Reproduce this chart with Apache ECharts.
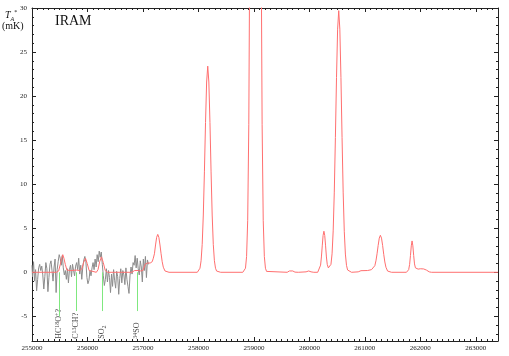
<!DOCTYPE html>
<html>
<head>
<meta charset="utf-8">
<script src="https://cdn.jsdelivr.net/npm/echarts@6/dist/echarts.min.js"></script>
<style>
html, body { margin: 0; padding: 0; background: #fff; }
#chart { width: 509px; height: 356px; }
</style>
</head>
<body>
<div id="chart"></div>
<script>
// observed spectrum (grey), evenly spaced channels
var OBS_START = 255000;
var OBS_STEP = 18.5;
var obsValues = [
    0.8, -0.5, 1.2, -1.0, 0.3, -2.1, -0.8, 0.5,
    0.9, 0.2, 0.7, -0.3, -1.9, -0.5, 1.1, 0.4, -2.2, -0.6,
    0.9, 1.3, 0.2, -1.0, 0.6, 1.5, -2.3, 0.3,
    1.2, 2.0, 1.6, 0.8, 1.9, 0.5, -0.3, 0.2,
    -0.8, 0.4, -1.2, 0.3, 0.8, -0.5, 0.9, 0.2, -0.4,
    0.7, 1.1, 0.3, 1.6, -0.2, 0.8, -0.8, 0.6, 1.4, 1.8,
    1.2, -0.6, -1.3, -0.9, 0.2, -0.4, 0.5,
    1.1, 0.3, 1.5, 0.6, 2.0, 1.2, 2.4, 1.7, 2.3,
    0.9, -0.4, -1.5, -0.8, 0.4, -1.1, 0.2, -0.6, -2.3,
    -0.2, -1.6, 0.3, -0.9, -1.8, 0.1, -0.5, -2.5, -0.7, 0.4, -1.2, 0.2, -0.3, -1.4, 0.5,
    -0.8, -1.6, -2.4, -0.4, 0.6, -0.2, 1.1, 0.8, 1.9, 0.5,
    1.6, 0.4, -0.3, 1.3, 0.6, -1.1, 1.5, 0.2, 1.8, -0.6, 1.4, 0.9
];

// model spectrum (red)
var modelFreq = [
    255000, 255440, 255480, 255510, 255535, 255555, 255575, 255600, 255630, 255660,
    255700, 255800, 255860, 255900, 255930, 255964, 255995, 256030, 256060, 256160,
    256190, 256220, 256252, 256285, 256320, 256360, 256800, 256850, 256883, 256920,
    256960, 257000, 257040, 257080, 257130, 257167, 257187, 257207, 257227, 257247,
    257267, 257287, 257307, 257327, 257347, 257367, 257397, 257427, 257470,
    257980, 258008, 258028, 258048, 258068, 258088, 258108, 258128, 258148, 258168,
    258188, 258208, 258228, 258248, 258268, 258288, 258308, 258328, 258358, 258400,
    258800, 258828, 258848, 258868, 258888, 258908, 258928, 258948, 258968, 258988, 259008,
    259028, 259048, 259068, 259088, 259108, 259128, 259148, 259168, 259188, 259208,
    259228, 259258,
    259600, 259640, 259671, 259700, 259740, 259800, 259940, 259988, 260030, 260080,
    260150, 260180, 260202, 260217, 260232, 260247, 260262, 260277, 260292, 260307,
    260322, 260342, 260369, 260389, 260409, 260429, 260449, 260469, 260489, 260509,
    260529, 260549, 260569, 260589, 260609, 260629, 260649, 260669, 260689, 260719, 260760,
    260880, 260930, 261050, 261120, 261150, 261180, 261200, 261220, 261240, 261260,
    261280, 261300, 261320, 261340, 261360, 261380, 261410, 261440, 261480,
    261750, 261771, 261790, 261807, 261822, 261837, 261851, 261865, 261880, 261895,
    261912, 261935, 261960, 262000, 262060, 262110, 262160, 262200, 263400
];
var modelValues = [
    0, 0, 0.15, 0.9, 1.6, 2.0, 1.6, 0.9, 0.25, 0.05,
    0.2, 0.25, 0.2, 0.4, 1.1, 1.6, 1.0, 0.2, 0.02, 0,
    0.3, 1.2, 1.75, 1.1, 0.2, 0, 0, 0.2, 0.3, 0.2,
    0.15, 0.2, 0.9, 1.05, 1.05, 1.2, 1.6, 2.1, 3.1, 3.97,
    4.3, 3.97, 3.1, 2.1, 1.2, 0.58, 0.15, 0.03, 0,
    0, 0.14, 0.46, 1.31, 3.17, 6.5, 11.4, 17.0, 21.6, 23.4,
    21.6, 17.0, 11.4, 6.5, 3.17, 1.31, 0.46, 0.14, 0.02, 0,
    0, 0.1, 0.46, 1.8, 5.9, 16.8, 40.6, 83, 146, 218, 277,
    300, 277, 218, 146, 83, 40.6, 16.8, 5.9, 1.8, 0.46,
    0.1, 0,
    0, 0.15, 0.23, 0.15, 0.02, 0, 0.05, 0.15, 0.05, 0,
    0, 0.08, 0.81, 1.74, 3.0, 4.18, 4.66, 4.18, 3.0, 1.74,
    0.9, 0.5, 0.6, 0.9, 2.1, 4.7, 9.1, 15.3, 22.1, 27.6,
    29.7, 27.6, 22.1, 15.3, 9.1, 4.66, 2.07, 0.79, 0.26, 0.04, 0,
    0.05, 0.18, 0.2, 0.3, 0.35, 0.75, 1.3, 2.1, 3.05, 3.88,
    4.2, 3.88, 3.05, 2.04, 1.17, 0.57, 0.14, 0.03, 0,
    0, 0.06, 0.3, 0.9, 1.9, 3.0, 3.56, 3.0, 1.9, 0.95,
    0.5, 0.35, 0.36, 0.4, 0.38, 0.25, 0.05, 0, 0
];

// line identifications (green)
var lineFreq = [255490, 255797, 256265, 256896];
var lineBottom = [-5.0, -4.4, -4.4, -4.4];
var lineNames = ['HC{sup|18}O{sup|+}?', 'C{sup|13}CH?', 'SO{sub|2}', '{sup|34}SO'];

var X_MIN = 255000, X_MAX = 263400;
var Y_MIN = -7.8, Y_MAX = 30;
var AXIS_COLOR = '#222';
var SERIF = '"Liberation Serif", "DejaVu Serif", serif';

var chart = echarts.init(document.getElementById('chart'), null, { renderer: 'canvas' });

var obsData = obsValues.map(function(v, i) {
    return [OBS_START + i * OBS_STEP, v];
});
var modelData = modelFreq.map(function(f, i) {
    return [f, modelValues[i]];
});
var markData = lineFreq.map(function(f, i) {
    return [{ coord: [f, 0] }, { coord: [f, lineBottom[i]] }];
});
var labelData = lineFreq.map(function(f, i) {
    return { value: [f, -7.55], name: lineNames[i] };
});

function xAxisOf(pos, showLabel) {
    return {
        type: 'value',
        position: pos,
        min: X_MIN,
        max: X_MAX,
        splitNumber: 8,
        axisLine: { show: true, onZero: false, lineStyle: { color: AXIS_COLOR, width: 1 } },
        axisTick: { show: true, inside: true, length: 4, lineStyle: { color: AXIS_COLOR } },
        minorTick: { show: true, splitNumber: 10, length: 2, lineStyle: { color: AXIS_COLOR } },
        splitLine: { show: false },
        minorSplitLine: { show: false },
        axisLabel: {
            show: showLabel, fontSize: 7, fontFamily: SERIF, color: AXIS_COLOR,
            margin: 4, showMinLabel: true, showMaxLabel: false,
            formatter: function(v) { return String(v); }
        }
    };
}

function yAxisOf(pos, showLabel) {
    return {
        type: 'value',
        position: pos,
        min: Y_MIN,
        max: Y_MAX,
        splitNumber: 8,
        axisLine: { show: true, onZero: false, lineStyle: { color: AXIS_COLOR, width: 1 } },
        axisTick: { show: true, inside: true, length: 4, lineStyle: { color: AXIS_COLOR } },
        minorTick: { show: true, splitNumber: 5, length: 2, lineStyle: { color: AXIS_COLOR } },
        splitLine: { show: false },
        minorSplitLine: { show: false },
        axisLabel: {
            show: showLabel, fontSize: 7, fontFamily: SERIF, color: AXIS_COLOR,
            margin: 5, showMinLabel: false, showMaxLabel: true
        }
    };
}

var option = {
    backgroundColor: '#fff',
    animation: false,
    grid: { left: 32, right: 11, top: 8, bottom: 15, containLabel: false, outerBoundsMode: 'none' },
    xAxis: [xAxisOf('bottom', true), xAxisOf('top', false)],
    yAxis: [yAxisOf('left', true), yAxisOf('right', false)],
    graphic: [
        {
            type: 'text', left: 55, top: 14,
            style: { text: 'IRAM', fontSize: 14, fontFamily: SERIF, fill: '#111' }
        },
        {
            type: 'text', left: 5, top: 9,
            style: {
                text: '{it|T}{sub|A}{sup|*}',
                rich: {
                    it: { fontSize: 10, fontStyle: 'italic', fontFamily: SERIF, fill: '#111', lineHeight: 13 },
                    sub: { fontSize: 6, fontStyle: 'italic', fontFamily: SERIF, fill: '#111', verticalAlign: 'bottom' },
                    sup: { fontSize: 6, fontFamily: SERIF, fill: '#111', verticalAlign: 'top' }
                }
            }
        },
        {
            type: 'text', left: 2, top: 21,
            style: { text: '(mK)', fontSize: 10, fontFamily: SERIF, fill: '#111' }
        }
    ],
    series: [
        {
            name: 'observed',
            type: 'line',
            data: obsData,
            step: 'middle',
            showSymbol: false,
            lineStyle: { color: '#8c8c8c', width: 1 },
            markLine: {
                silent: true,
                symbol: 'none',
                label: { show: false },
                lineStyle: { color: '#7fe87f', width: 1, type: 'solid' },
                data: markData
            },
            z: 2
        },
        {
            name: 'model',
            type: 'line',
            data: modelData,
            showSymbol: false,
            clip: true,
            lineStyle: { color: '#ff6f6f', width: 1 },
            z: 3
        },
        {
            name: 'labels',
            type: 'scatter',
            data: labelData,
            symbolSize: 1,
            itemStyle: { color: 'rgba(0,0,0,0)' },
            label: {
                show: true,
                position: 'inside',
                rotate: 90,
                align: 'left',
                verticalAlign: 'middle',
                formatter: function(p) { return '{n|' + p.name.replace(/\{(sup|sub)\|([^}]*)\}/g, '}{$1|$2}{n|') + '}'; },
                rich: {
                    n: { fontSize: 8, fontFamily: SERIF, color: '#111', lineHeight: 10 },
                    sup: { fontSize: 6, fontFamily: SERIF, color: '#111', verticalAlign: 'top' },
                    sub: { fontSize: 6, fontFamily: SERIF, color: '#111', verticalAlign: 'bottom' }
                }
            },
            z: 4
        }
    ]
};

chart.setOption(option);
</script>
</body>
</html>
